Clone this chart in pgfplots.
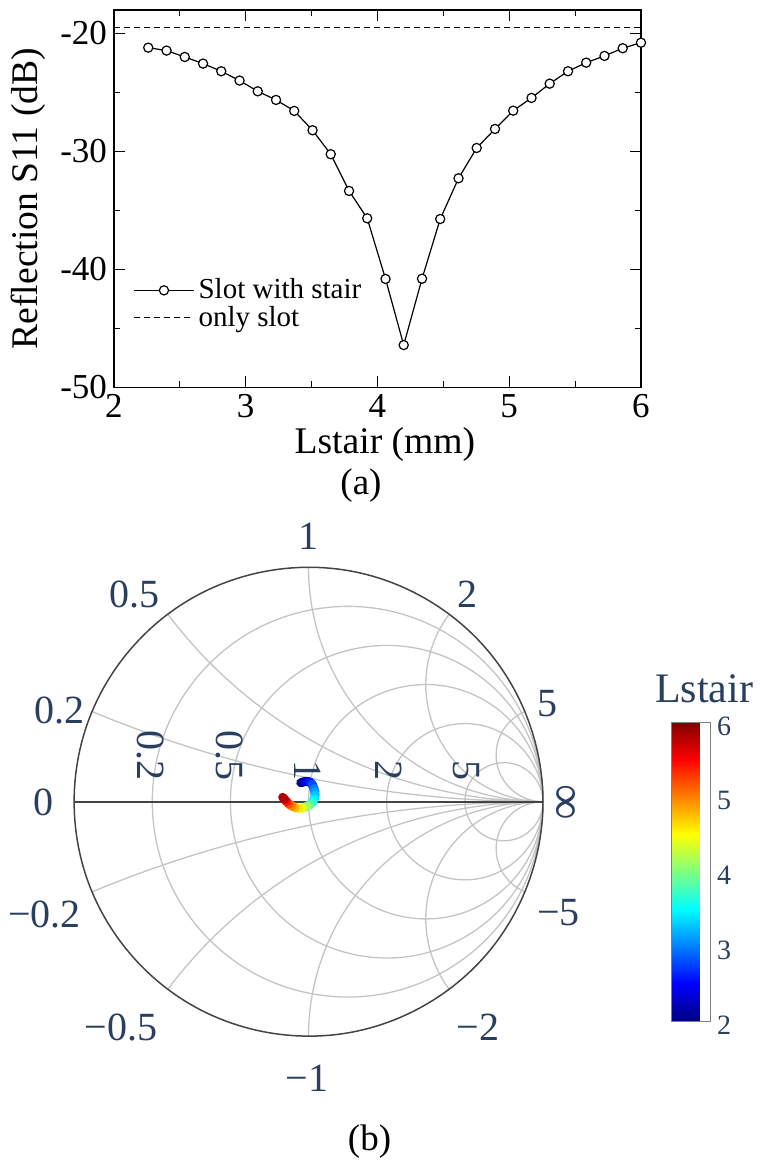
\documentclass[border=0pt]{standalone}
\usepackage{pgfplots}
\pgfplotsset{compat=1.18}
\usepgfplotslibrary{smithchart}
\usepackage{fontspec}
\setmainfont{Liberation Serif}
\definecolor{pltext}{HTML}{2A3F5F}
\definecolor{plgrid}{HTML}{C4C4C4}
\definecolor{plaxis}{HTML}{444444}

\begin{document}
\begin{tikzpicture}
\path[use as bounding box] (0pt,0pt) rectangle (380pt,-580.5pt);

% (a) S11 against Lstair
\begin{axis}[
  at={(57pt,-5pt)}, anchor=north west,
  scale only axis, width=263.5pt, height=188.65pt,
  xmin=2, xmax=6, ymin=-50, ymax=-18.03,
  xtick={2,3,4,5,6}, xticklabels={2,3,4,5,6},
  ytick={-50,-40,-30,-20}, yticklabels={-50,-40,-30,-20},
  minor x tick num=1, minor y tick num=1,
  tick align=inside,
  major tick length=5.5pt, minor tick length=3pt,
  tick style={line width=0.6pt, black},
  axis line style={line width=0.65pt},
  ticklabel style={font=\fontsize{17.5}{18}\selectfont},
  label style={font=\fontsize{18.8}{20}\selectfont},
  xlabel={Lstair (mm)}, ylabel={Reflection S11 (dB)},
  xlabel style={at={(axis description cs:0.514,-0.152)}, anchor=center},
  ylabel style={at={(axis description cs:-0.163,0.5)}, anchor=center},
  legend style={at={(axis description cs:0.036,0.221)}, anchor=west,
    draw=none, fill=none, inner sep=0pt, row sep=-2pt,
    font=\fontsize{14.5}{15}\selectfont},
  legend cell align=left,
  legend image code/.code={\draw[mark repeat=2,mark phase=2,#1] plot coordinates {(0pt,0pt) (15pt,0pt) (30pt,0pt)};},
  clip=false,
]
\addplot[black, line width=0.6pt, mark=*, mark size=2.3pt,
  mark options={fill=white, draw=black, line width=0.6pt}] table {
x y
2.260 -21.22
2.399 -21.47
2.537 -22.01
2.676 -22.57
2.814 -23.22
2.953 -24.01
3.091 -24.92
3.230 -25.65
3.368 -26.58
3.507 -28.22
3.645 -30.25
3.784 -33.36
3.922 -35.68
4.061 -40.82
4.199 -46.42
4.338 -40.80
4.476 -35.74
4.615 -32.29
4.753 -29.72
4.892 -28.11
5.030 -26.56
5.169 -25.48
5.307 -24.27
5.446 -23.22
5.584 -22.49
5.723 -21.92
5.861 -21.27
6.000 -20.80
};
\addlegendentry{Slot with stair}
\addplot[black, line width=0.6pt, dash pattern=on 3pt off 2pt] coordinates {(2,-19.53) (6,-19.53)};
\addlegendentry{only slot}
\end{axis}

% (b) Smith chart
\begin{smithchart}[
  at={(154.25pt,-400.85pt)}, anchor=center,
  scale only axis, width=234.5pt, height=234.5pt,
  xtick={0.2,0.5,1,2,5}, ytick={-5,-2,-1,-0.5,-0.2,0.2,0.5,1,2,5},
  minor xtick={}, minor ytick={},
  xticklabels={}, yticklabels={},
  ticklabel style={opacity=0},
  major tick length=0pt,
  grid style={plgrid, line width=0.65pt},
  axis line style={plaxis, line width=0.75pt},
  colormap/jet, point meta min=2, point meta max=6,
]
\addplot[is smithchart cs, plaxis, line width=1pt] coordinates {(-1,0) (1,0)};
\addplot[is smithchart cs, mesh, point meta=explicit, line width=4.5pt, line cap=round] table[meta=c] {
x y c
-0.033 0.081 2.0
-0.012 0.087 2.25
0.004 0.085 2.5
0.016 0.074 2.7
0.023 0.057 2.9
0.027 0.042 3.05
0.028 0.029 3.2
0.025 0.013 3.35
0.018 0.000 3.5
0.006 -0.013 3.75
-0.008 -0.021 4.0
-0.025 -0.027 4.25
-0.043 -0.028 4.5
-0.058 -0.025 4.7
-0.072 -0.018 4.9
-0.084 -0.010 5.1
-0.093 0.000 5.3
-0.102 0.010 5.6
-0.110 0.019 6.0
};
\end{smithchart}

% colorbar for Lstair
\begin{axis}[
  at={(327pt,-361pt)}, anchor=north west,
  hide axis, scale only axis, width=1pt, height=1pt,
  xmin=0, xmax=1, ymin=0, ymax=1,
  colormap/jet, point meta min=2, point meta max=6,
  colorbar,
  colorbar style={
    at={(parent axis.north west)}, anchor=north west,
    scale only axis, width=19.5pt, height=149.5pt,
    ytick={2,3,4,5,6}, yticklabels={2,3,4,5,6},
    major tick length=0pt,
    axis line style={gray, line width=0.4pt},
    yticklabel style={font=\fontsize{14}{14}\selectfont, text=pltext, yshift=-2pt},
  },
]
\addplot[draw=none] coordinates {(0,0)};
\end{axis}

\begin{scope}[x=0.5pt, y=-0.5pt, every node/.style={text=pltext, inner sep=0pt, font=\fontsize{20}{20}\selectfont}]
% reactance labels round the rim
\node at (308,536) {1};
\node at (134,594.5) {0.5};
\node at (467,594.5) {2};
\node[anchor=east] at (85,710) {0.2};
\node[anchor=west] at (537,704) {5};
\node[anchor=east] at (54,802) {0};
\node[rotate=-90, font=\fontsize{25}{25}\selectfont] at (563,802) {∞};
\node[anchor=east] at (81,914) {−0.2};
\node[anchor=west] at (537,913) {−5};
\node at (121,1027) {−0.5};
\node at (478,1027) {−2};
\node at (307,1078) {−1};
% resistance labels on the real axis
\node[rotate=-90, anchor=east] at (151,781) {0.2};
\node[rotate=-90, anchor=east] at (230,781) {0.5};
\node[rotate=-90, anchor=east] at (308,781) {1};
\node[rotate=-90, anchor=east] at (389,781) {2};
\node[rotate=-90, anchor=east] at (466,781) {5};
% colorbar title
\node[font=\fontsize{21}{21}\selectfont] at (704,689) {Lstair};
% panel captions
\node[text=black, font=\fontsize{18.5}{19}\selectfont] at (361,486) {(a)};
\node[text=black, font=\fontsize{18.5}{19}\selectfont] at (369.5,1142) {(b)};
\end{scope}
\end{tikzpicture}
\end{document}
